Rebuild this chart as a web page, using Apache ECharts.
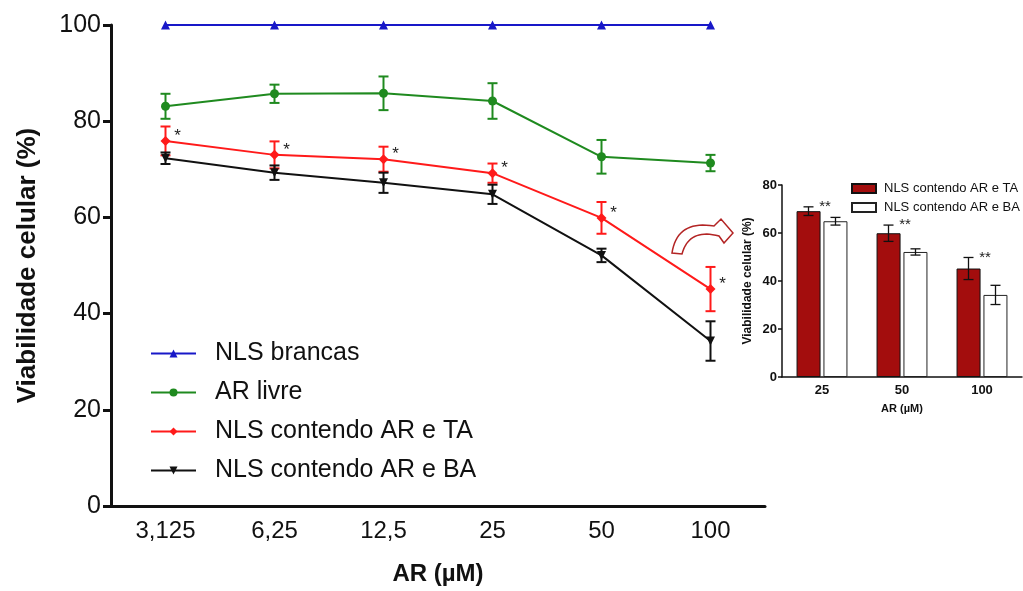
<!DOCTYPE html>
<html>
<head>
<meta charset="utf-8">
<script src="https://cdn.jsdelivr.net/npm/echarts@6/dist/echarts.min.js"></script>
<style>
  html, body { margin: 0; padding: 0; background: #fff; }
  #chart { width: 1023px; height: 591px; }
</style>
</head>
<body>
<div id="chart"></div>
<script>
/* main chart data (mean, error) */
var doses = ['3,125', '6,25', '12,5', '25', '50', '100'];
var brancas = [100, 100, 100, 100, 100, 100];
var livre = [83.1, 85.7, 85.8, 84.2, 72.6, 71.3];
var livreErr = [2.6, 1.9, 3.5, 3.7, 3.5, 1.7];
var contTA = [75.9, 73.0, 72.1, 69.2, 59.9, 45.1];
var contTAErr = [3.0, 2.8, 2.6, 2.0, 3.3, 4.6];
var contBA = [72.3, 69.3, 67.2, 64.8, 52.1, 34.3];
var contBAErr = [1.2, 1.5, 2.1, 2.0, 1.4, 4.1];

/* inset data */
var insetDoses = ['25', '50', '100'];
var insetTA = [69.1, 59.9, 45.2];
var insetTAErr = [1.8, 3.4, 4.6];
var insetBA = [64.9, 52.1, 34.2];
var insetBAErr = [1.6, 1.3, 4.0];

var insetNames = {
  insetTA: 'NLS contendo AR e TA',
  insetBA: 'NLS contendo AR e BA'
};

var FONT = 'Liberation Sans, Arial, sans-serif';

function errData(vals, errs) {
  return vals.map(function (v, i) {
    return [i, v - errs[i], v + errs[i]];
  });
}

/* draws a vertical error bar with caps, shifted sideways by shift px */
function errorBars(color, width, cap, shift) {
  return function (params, api) {
    var x = api.value(0);
    var top = api.coord([x, api.value(2)]);
    var bot = api.coord([x, api.value(1)]);
    var cx = top[0] + shift;
    var style = { stroke: color, lineWidth: width };
    return {
      type: 'group',
      children: [
        { type: 'line', shape: { x1: cx, y1: top[1], x2: cx, y2: bot[1] }, style: style },
        { type: 'line', shape: { x1: cx - cap, y1: top[1], x2: cx + cap, y2: top[1] }, style: style },
        { type: 'line', shape: { x1: cx - cap, y1: bot[1], x2: cx + cap, y2: bot[1] }, style: style }
      ]
    };
  };
}

/* star marks placed relative to a data point */
function stars(txt, size, dx, dy) {
  return function (params, api) {
    var p = api.coord([api.value(0), api.value(1)]);
    return {
      type: 'text',
      x: p[0] + dx,
      y: p[1] + dy,
      style: {
        text: txt, fill: '#222', fontSize: size, fontFamily: FONT,
        align: 'center', verticalAlign: 'middle'
      }
    };
  };
}

/* quadratic curve sampled into points (for the curved arrow outline) */
function quad(p0, c, p1, n) {
  var pts = [];
  for (var i = 0; i <= n; i++) {
    var t = i / n, u = 1 - t;
    pts.push([
      u * u * p0[0] + 2 * u * t * c[0] + t * t * p1[0],
      u * u * p0[1] + 2 * u * t * c[1] + t * t * p1[1]
    ]);
  }
  return pts;
}

var arrowPts = quad([672, 253], [677, 220], [714, 226], 18)
  .concat([[721, 219], [733, 233], [724, 243]])
  .concat(quad([719, 236], [689, 228], [682, 254], 18));

var chart = echarts.init(document.getElementById('chart'));

var option = {
  animation: false,
  textStyle: { fontFamily: FONT },
  legend: [{
    data: ['NLS brancas', 'AR livre', 'NLS contendo AR e TA', 'NLS contendo AR e BA'],
    orient: 'vertical',
    left: 145,
    top: 336,
    itemWidth: 45,
    itemHeight: 10,
    itemGap: 14,
    textStyle: { fontSize: 25, color: '#111', fontFamily: FONT, padding: [0, 0, 0, 14] }
  }, {
    data: ['insetTA', 'insetBA'],
    orient: 'vertical',
    left: 846,
    top: 177,
    itemWidth: 24,
    itemHeight: 9,
    itemGap: 6,
    icon: 'rect',
    formatter: function (name) { return insetNames[name]; },
    textStyle: { fontSize: 13, color: '#111', fontFamily: FONT, padding: [0, 0, 0, 3] }
  }],
  grid: [
    { left: 111, right: 258, top: 25, bottom: 81 },
    { left: 782, right: 1, top: 185, bottom: 214 }
  ],
  xAxis: [{
    type: 'category',
    gridIndex: 0,
    data: doses,
    name: 'AR (\u00b5M)',
    nameLocation: 'middle',
    nameGap: 56,
    nameTextStyle: { fontSize: 24, fontWeight: 'bold', color: '#111' },
    axisLine: { lineStyle: { color: '#111', width: 3 } },
    axisTick: { alignWithLabel: true, length: 8, lineStyle: { width: 3, color: '#111' } },
    axisLabel: { fontSize: 24, color: '#111', margin: 13 },
    splitLine: { show: false }
  }, {
    type: 'category',
    gridIndex: 1,
    data: insetDoses,
    name: 'AR (\u00b5M)',
    nameLocation: 'middle',
    nameGap: 26,
    nameTextStyle: { fontSize: 11, fontWeight: 'bold', color: '#111' },
    axisLine: { lineStyle: { color: '#111', width: 1.5 } },
    axisTick: { show: false },
    axisLabel: { fontSize: 13, fontWeight: 'bold', color: '#111', margin: 7 },
    splitLine: { show: false }
  }],
  yAxis: [{
    type: 'value',
    gridIndex: 0,
    min: 0,
    max: 100,
    interval: 20,
    name: 'Viabilidade celular (%)',
    nameLocation: 'middle',
    nameGap: 70,
    nameTextStyle: { fontSize: 26, fontWeight: 'bold', color: '#111' },
    axisLine: { show: true, lineStyle: { color: '#111', width: 3 } },
    axisTick: { show: true, length: 8, lineStyle: { width: 3, color: '#111' } },
    axisLabel: { fontSize: 25, color: '#111', margin: 10 },
    splitLine: { show: false }
  }, {
    type: 'value',
    gridIndex: 1,
    min: 0,
    max: 80,
    interval: 20,
    name: 'Viabilidade celular (%)',
    nameLocation: 'middle',
    nameGap: 28,
    nameTextStyle: { fontSize: 12, fontWeight: 'bold', color: '#111' },
    axisLine: { show: true, lineStyle: { color: '#111', width: 1.5 } },
    axisTick: { show: true, length: 4, lineStyle: { width: 1.5, color: '#111' } },
    axisLabel: { fontSize: 13, fontWeight: 'bold', color: '#111', margin: 5 },
    splitLine: { show: false }
  }],
  graphic: [{
    type: 'polygon',
    shape: { points: arrowPts },
    style: { fill: '#fff', stroke: '#b32424', lineWidth: 1.5 }
  }],
  series: [
    {
      name: 'NLS brancas', type: 'line', data: brancas,
      symbol: 'triangle', symbolSize: 9,
      lineStyle: { color: '#1818c8', width: 2 },
      itemStyle: { color: '#1818c8' }
    },
    {
      name: 'AR livre', type: 'line', data: livre,
      symbol: 'circle', symbolSize: 9,
      lineStyle: { color: '#1f8a1f', width: 2 },
      itemStyle: { color: '#1f8a1f' }
    },
    {
      name: 'NLS contendo AR e TA', type: 'line', data: contTA,
      symbol: 'diamond', symbolSize: 10,
      lineStyle: { color: '#ff1a1a', width: 2 },
      itemStyle: { color: '#ff1a1a' }
    },
    {
      name: 'NLS contendo AR e BA', type: 'line', data: contBA,
      symbol: 'triangle', symbolRotate: 180, symbolSize: 9,
      lineStyle: { color: '#111', width: 2 },
      itemStyle: { color: '#111' }
    },
    {
      type: 'custom', data: errData(livre, livreErr),
      renderItem: errorBars('#1f8a1f', 2, 5, 0), z: 3
    },
    {
      type: 'custom', data: errData(contTA, contTAErr),
      renderItem: errorBars('#ff1a1a', 2, 5, 0), z: 3
    },
    {
      type: 'custom', data: errData(contBA, contBAErr),
      renderItem: errorBars('#111', 2, 5, 0), z: 3
    },
    {
      type: 'custom', data: contTA.map(function (v, i) { return [i, v]; }),
      renderItem: stars('*', 17, 12, -5), z: 4
    },
    /* inset */
    {
      name: 'insetTA', type: 'bar', xAxisIndex: 1, yAxisIndex: 1,
      data: insetTA, barWidth: 24, barGap: '12%',
      itemStyle: { color: '#a30d0d', borderColor: '#111', borderWidth: 1 }
    },
    {
      name: 'insetBA', type: 'bar', xAxisIndex: 1, yAxisIndex: 1,
      data: insetBA, barWidth: 24, barGap: '12%',
      itemStyle: { color: '#fff', borderColor: '#222', borderWidth: 1 }
    },
    {
      type: 'custom', xAxisIndex: 1, yAxisIndex: 1,
      data: errData(insetTA, insetTAErr),
      renderItem: errorBars('#111', 1.3, 5, -13.5), z: 3
    },
    {
      type: 'custom', xAxisIndex: 1, yAxisIndex: 1,
      data: errData(insetBA, insetBAErr),
      renderItem: errorBars('#111', 1.3, 5, 13.5), z: 3
    },
    {
      type: 'custom', xAxisIndex: 1, yAxisIndex: 1,
      data: insetTA.map(function (v, i) { return [i, v + insetTAErr[i]]; }),
      renderItem: stars('**', 15, 3, 0), z: 4
    }
  ]
};

chart.setOption(option);
</script>
</body>
</html>
